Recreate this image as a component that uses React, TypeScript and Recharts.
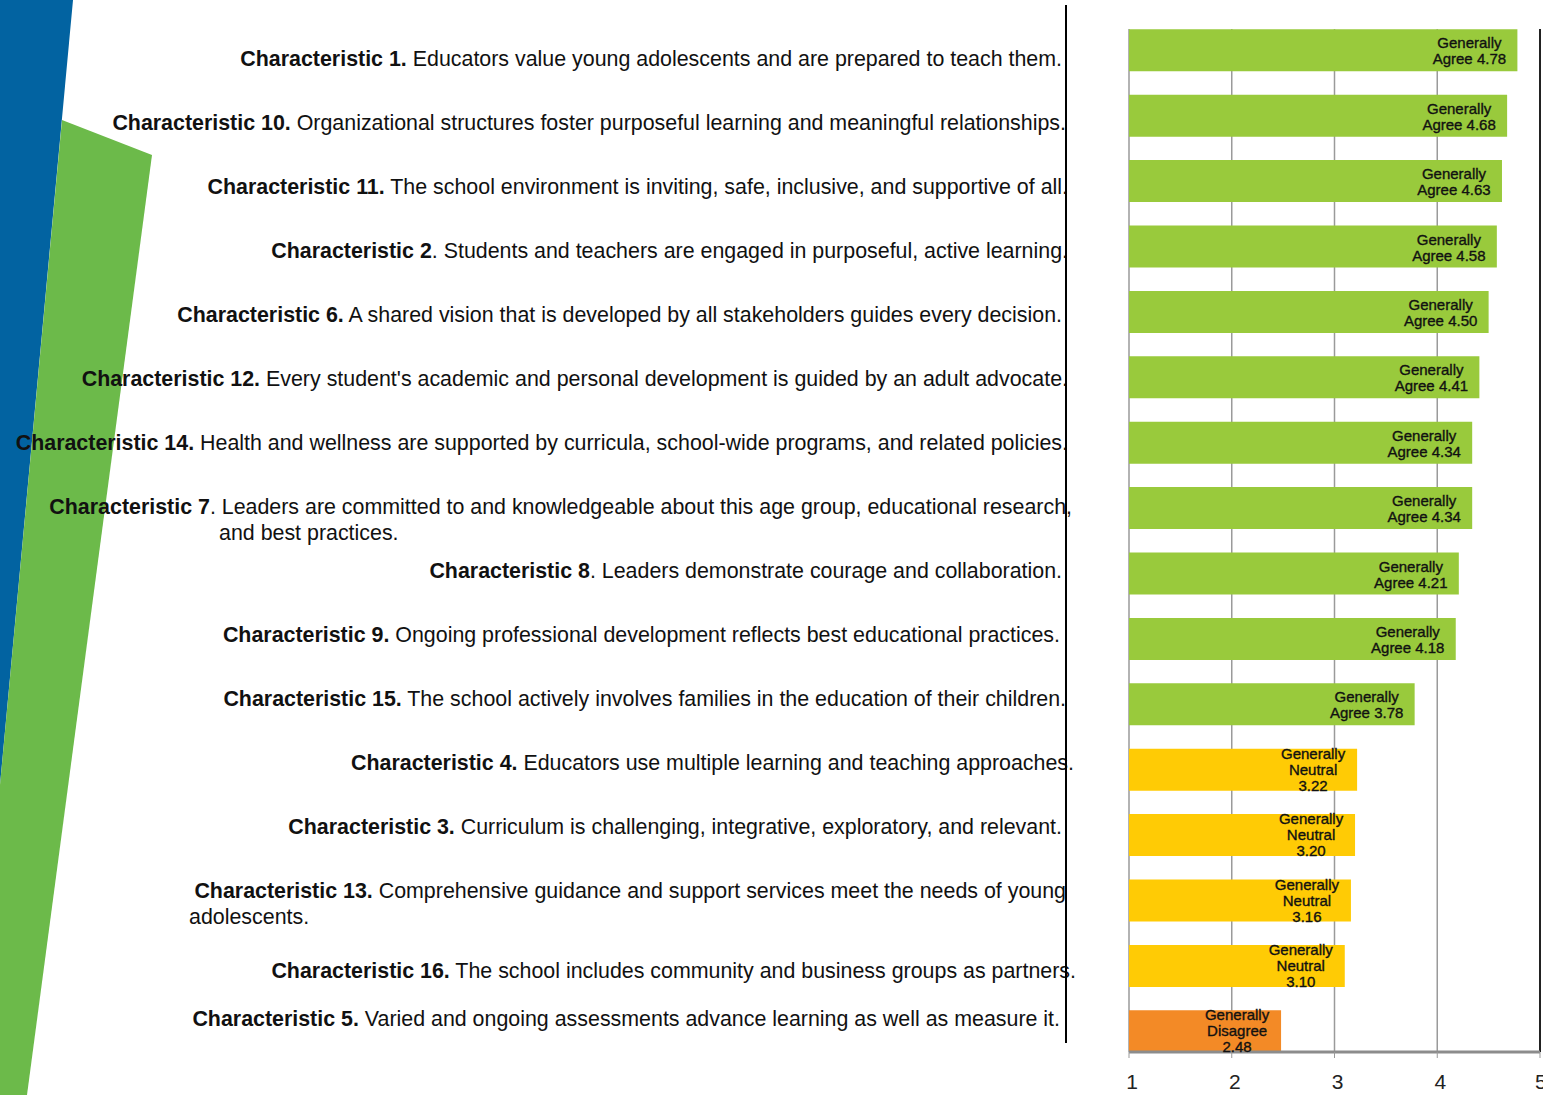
import React from "react";
import {
  BarChart,
  Bar,
  XAxis,
  YAxis,
  CartesianGrid,
  Cell,
  LabelList,
  ReferenceLine,
} from "recharts";

// order as shown, top to bottom
const characteristics = [
  "Characteristic 1",
  "Characteristic 10",
  "Characteristic 11",
  "Characteristic 2",
  "Characteristic 6",
  "Characteristic 12",
  "Characteristic 14",
  "Characteristic 7",
  "Characteristic 8",
  "Characteristic 9",
  "Characteristic 15",
  "Characteristic 4",
  "Characteristic 3",
  "Characteristic 13",
  "Characteristic 16",
  "Characteristic 5",
];

const scores = [
  4.78, 4.68, 4.63, 4.58, 4.5, 4.41, 4.34, 4.34, 4.21, 4.18, 3.78, 3.22, 3.2,
  3.16, 3.1, 2.48,
];

const ratings = [
  "Agree", "Agree", "Agree", "Agree", "Agree", "Agree", "Agree", "Agree",
  "Agree", "Agree", "Agree", "Neutral", "Neutral", "Neutral", "Neutral",
  "Disagree",
];

const leadTexts = [
  "Characteristic 1.",
  "Characteristic 10.",
  "Characteristic 11.",
  "Characteristic 2",
  "Characteristic 6.",
  "Characteristic 12.",
  "Characteristic 14.",
  "Characteristic 7",
  "Characteristic 8",
  "Characteristic 9.",
  "Characteristic 15.",
  "Characteristic 4.",
  "Characteristic 3.",
  "Characteristic 13.",
  "Characteristic 16.",
  "Characteristic 5.",
];

const bodyTexts = [
  " Educators value young adolescents and are prepared to teach them.",
  " Organizational structures foster purposeful learning and meaningful relationships.",
  " The school environment is inviting, safe, inclusive, and supportive of all.",
  ". Students and teachers are engaged in purposeful, active learning.",
  " A shared vision that is developed by all stakeholders guides every decision.",
  " Every student's academic and personal development is guided by an adult advocate.",
  " Health and wellness are supported by curricula, school-wide programs, and related policies.",
  ". Leaders are committed to and knowledgeable about this age group, educational research,",
  ". Leaders demonstrate courage and collaboration.",
  " Ongoing professional development reflects best educational practices.",
  " The school actively involves families in the education of their children.",
  " Educators use multiple learning and teaching approaches.",
  " Curriculum is challenging, integrative, exploratory, and relevant.",
  " Comprehensive guidance and support services meet the needs of young",
  " The school includes community and business groups as partners.",
  " Varied and ongoing assessments advance learning as well as measure it.",
];

const wrapTexts = [
  "", "", "", "", "", "", "", "and best practices.", "", "", "", "", "", "adolescents.", "", "",
];

const xTicks = [1, 2, 3, 4, 5];

const RATING_COLORS: Record<string, string> = {
  Agree: "#99CA3C",
  Neutral: "#FFCB05",
  Disagree: "#F38A26",
};

// page layout for the text column
const LABEL_Y = [59, 123, 187, 251, 315, 379, 443, 507, 571, 635, 699, 763, 827, 891, 971, 1019];
const LABEL_RIGHT = [1062, 1066, 1068, 1068, 1062, 1068, 1068, 1072, 1062, 1060, 1066, 1074, 1062, 1066, 1076, 1060];
const WRAP_LEFT = [0, 0, 0, 0, 0, 0, 0, 219, 0, 0, 0, 0, 0, 189, 0, 0];

const rows = characteristics.map((name, i) => ({
  name,
  score: scores[i],
  rating: ratings[i],
}));

const BarNote = (props: any) => {
  const { x, y, width, index } = props;
  const end = x + width;
  const rating = ratings[index];
  const score = scores[index].toFixed(2);
  const common = {
    textAnchor: "middle" as const,
    fontSize: 15,
    fontFamily: "Arial, 'Liberation Sans', sans-serif",
    fill: "#111",
    stroke: "#111",
    strokeWidth: 0.35,
  };
  if (rating === "Agree") {
    const cx = end - 48;
    return (
      <text {...common} x={cx}>
        <tspan x={cx} y={y + 19}>Generally</tspan>
        <tspan x={cx} y={y + 35}>Agree {score}</tspan>
      </text>
    );
  }
  const cx = end - 44;
  return (
    <text {...common} x={cx}>
      <tspan x={cx} y={y + 10}>Generally</tspan>
      <tspan x={cx} y={y + 26}>{rating}</tspan>
      <tspan x={cx} y={y + 42}>{score}</tspan>
    </text>
  );
};

export default function App() {
  return (
    <div
      style={{
        position: "relative",
        width: 1543,
        height: 1095,
        overflow: "hidden",
        background: "#fff",
        fontFamily: "Arial, 'Liberation Sans', sans-serif",
      }}
    >
      <style>{`body{margin:0}`}</style>

      <svg
        width={200}
        height={1095}
        style={{ position: "absolute", left: 0, top: 0 }}
      >
        <polygon points="0,0 73,0 0,785" fill="#0263A1" />
        <polygon points="62,120 152,155 27,1095 0,1095 0,785" fill="#6CBA4A" />
      </svg>

      {leadTexts.map((lead, i) => (
        <React.Fragment key={lead}>
          <div
            style={{
              position: "absolute",
              right: 1543 - LABEL_RIGHT[i],
              top: LABEL_Y[i] - 13,
              lineHeight: "26px",
              fontSize: 21.4,
              whiteSpace: "nowrap",
              color: "#111",
            }}
          >
            <b>{lead}</b>
            {bodyTexts[i]}
          </div>
          {wrapTexts[i] && (
            <div
              style={{
                position: "absolute",
                left: WRAP_LEFT[i],
                top: LABEL_Y[i] + 13,
                lineHeight: "26px",
                fontSize: 21.4,
                whiteSpace: "nowrap",
                color: "#111",
              }}
            >
              {wrapTexts[i]}
            </div>
          )}
        </React.Fragment>
      ))}

      <div
        style={{
          position: "absolute",
          left: 1065,
          top: 5,
          width: 2,
          height: 1038,
          background: "#000",
        }}
      />

      <div style={{ position: "absolute", left: 1080, top: 0 }}>
        <BarChart
          width={463}
          height={1095}
          data={rows}
          layout="vertical"
          margin={{ top: 29, right: 3, bottom: 3, left: 49 }}
          barSize={42}
        >
          <CartesianGrid
            horizontal={false}
            stroke="#9a9a9a"
            strokeWidth={1.5}
          />
          <XAxis
            type="number"
            domain={[1, 5]}
            ticks={xTicks}
            allowDataOverflow
            height={40}
            axisLine={{ stroke: "#8c8c8c", strokeWidth: 3 }}
            tickLine={{ stroke: "#999" }}
            tickSize={6}
            tickMargin={16}
            tick={{ fill: "#222", fontSize: 21, dx: 3, fontFamily: "Arial, 'Liberation Sans', sans-serif" }}
          />
          <XAxis
            xAxisId="top"
            orientation="top"
            type="number"
            domain={[1, 5]}
            height={0}
            tick={false}
            tickLine={false}
            axisLine={{ stroke: "#cfcfcf", strokeWidth: 2 }}
          />
          <YAxis
            type="category"
            dataKey="name"
            width={0}
            tick={false}
            tickLine={false}
            padding={{ top: -11.7, bottom: -11.7 }}
            axisLine={{ stroke: "#444", strokeWidth: 3 }}
          />
          <ReferenceLine x={5} stroke="#222" strokeWidth={2} />
          <Bar dataKey="score" isAnimationActive={false}>
            {rows.map((r) => (
              <Cell key={r.name} fill={RATING_COLORS[r.rating]} />
            ))}
            <LabelList dataKey="score" content={BarNote} />
          </Bar>
        </BarChart>
      </div>
    </div>
  );
}
